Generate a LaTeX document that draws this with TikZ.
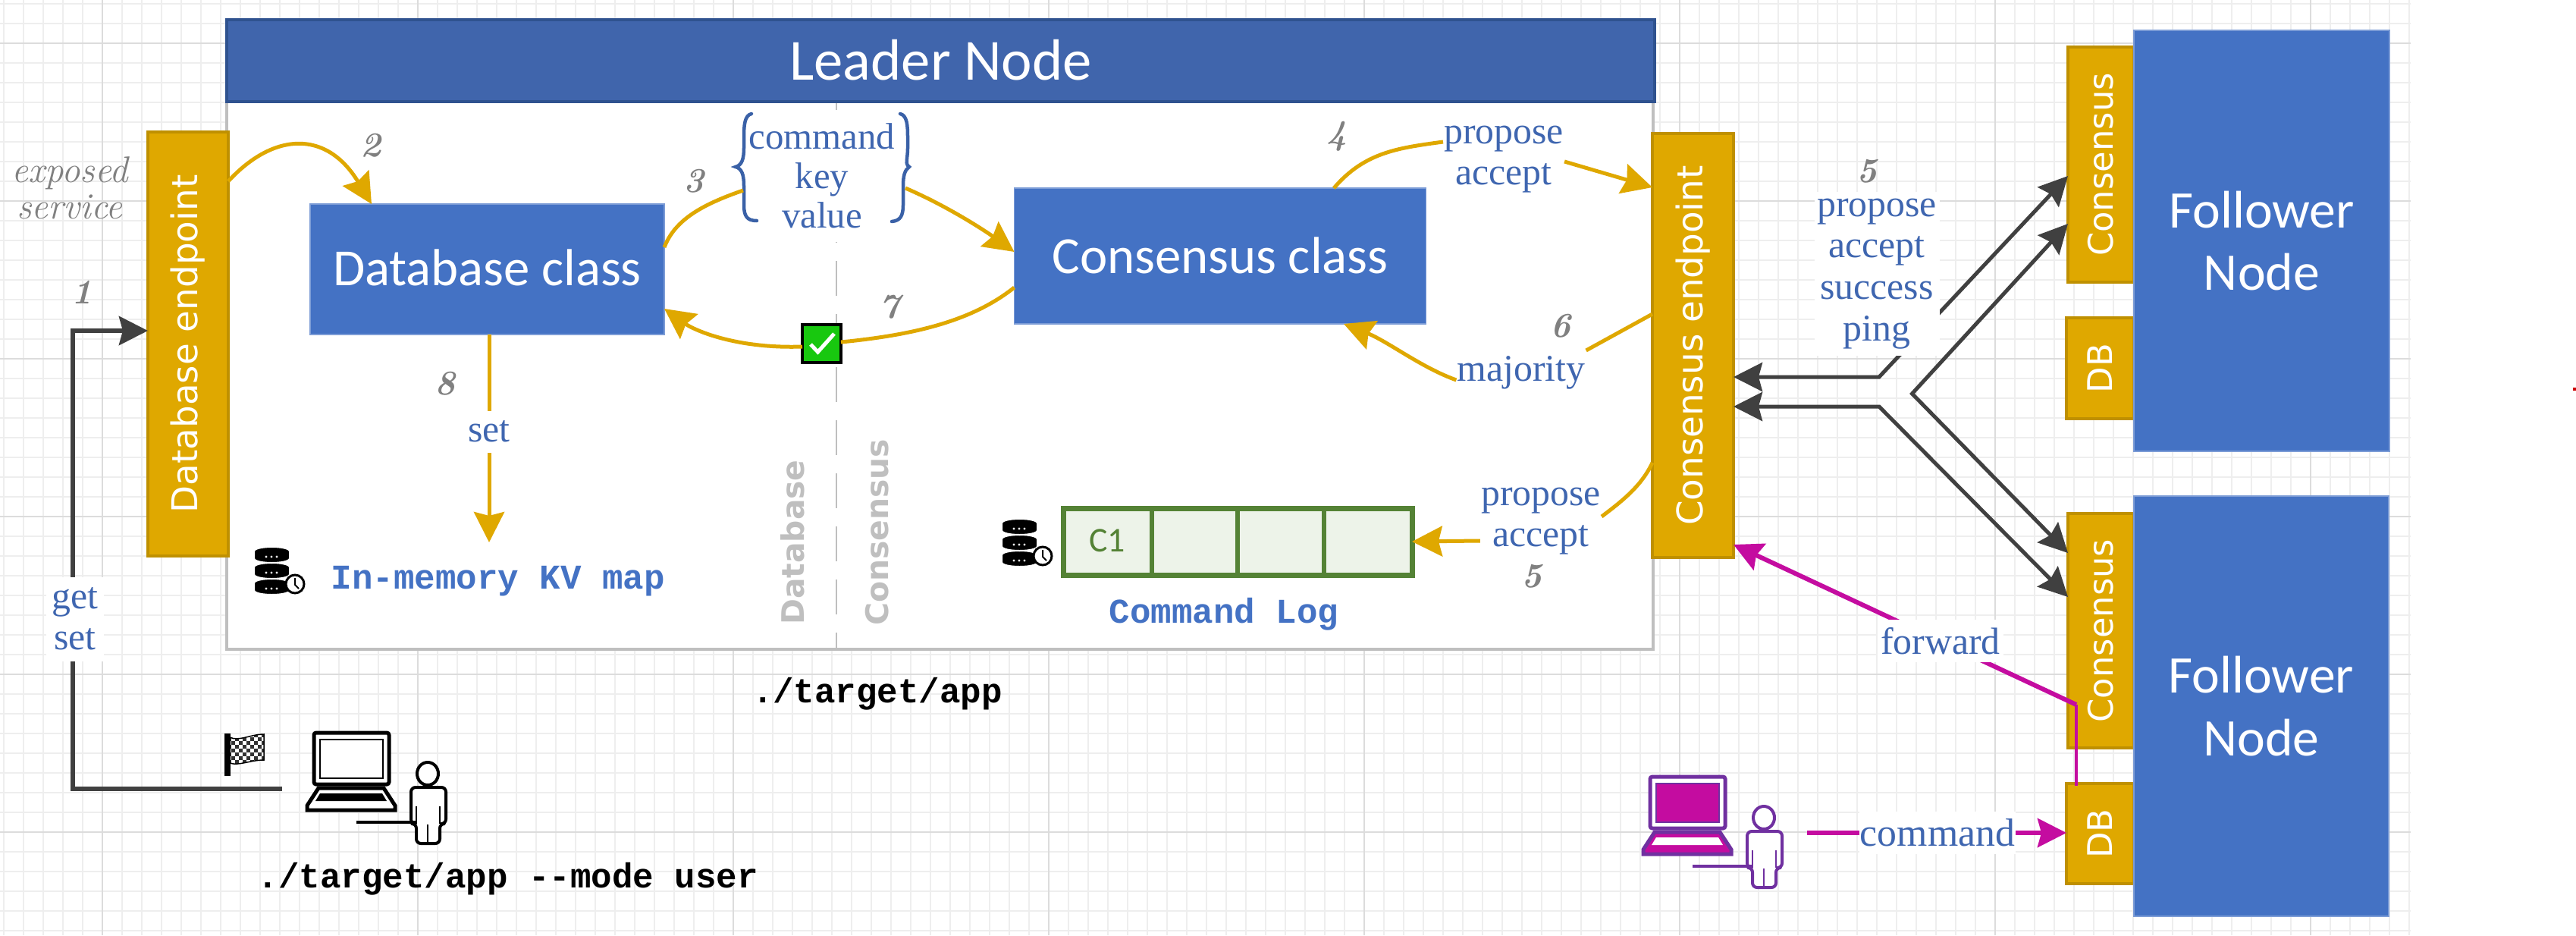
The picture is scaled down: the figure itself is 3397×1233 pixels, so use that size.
\documentclass[tikz,border=0pt]{standalone}
\usepackage{fontspec}
\usepackage{graphicx}
\usetikzlibrary{arrows.meta,calc}
\newfontfamily\fCal{Carlito}
\newfontfamily\fVer{DejaVu Sans}
\newfontfamily\fSer{Liberation Serif}
\newfontfamily\fMon{Liberation Mono}
\newcommand\fsz[2]{\fontsize{#1}{#2}\selectfont}
\definecolor{gold}{HTML}{DFA800}
\definecolor{goldd}{HTML}{BF9000}
\definecolor{blueb}{HTML}{4472C4}
\definecolor{bluet}{HTML}{4065AC}
\definecolor{bluetd}{HTML}{2F528F}
\definecolor{lbltxt}{HTML}{3F66B0}
\definecolor{dark}{HTML}{404040}
\definecolor{mag}{HTML}{C40CA0}
\definecolor{purp}{HTML}{7030A0}
\definecolor{grn}{HTML}{548235}
\definecolor{grnl}{HTML}{EDF3E9}
\definecolor{gmin}{HTML}{EEEEEE}
\definecolor{gmaj}{HTML}{DCDCDC}
\definecolor{chkgreen}{HTML}{18C80F}
\tikzset{
  sz/.style 2 args={minimum width=#1bp,minimum height=#2bp,inner sep=0pt,outer sep=0pt},
  epbox/.style={draw=goldd,line width=4bp,fill=gold,text=white,font=\fVer\fsz{47}{50}},
  fwbox/.style={draw=blueb!70!white,line width=1.5bp,fill=blueb,text=white,font=\fCal\fsz{70}{83},align=center},
  classbox/.style={draw=blueb!70!white,line width=1.5bp,fill=blueb,text=white,font=\fCal\fsz{69}{72}},
  lbl/.style={fill=white,text=lbltxt,font=\fSer\fsz{50}{54},align=center,inner sep=1bp},
  numl/.style={text=gray,font=\bfseries\itshape\fsz{46}{46},inner sep=0pt},
  mono/.style={font=\fMon\bfseries\fsz{46}{50},inner sep=0pt},
  monob/.style={mono,text=blueb},
  goldline/.style={draw=gold,line width=5bp},
  goldarrow/.style={goldline,-{Stealth[length=40bp,width=40bp,inset=5bp]}},
  darkboth/.style={draw=dark,line width=5bp,{Stealth[length=38bp,width=38bp,inset=5bp]}-{Stealth[length=38bp,width=38bp,inset=5bp]}},
  darkarrow/.style={draw=dark,line width=6bp,-{Stealth[length=38bp,width=38bp,inset=5bp]}},
  magarrow/.style={draw=mag,line width=6bp,-{Stealth[length=38bp,width=38bp,inset=5bp]}},
  bracel/.style={draw=blueb!85!black,line width=4.5bp,line cap=round},
  dbicon/.pic={
    \foreach \yy in {42,21,0}{
      \filldraw[fill=black,draw=white,line width=2bp] (0,\yy+6) -- (0,\yy+15) .. controls (0,\yy+23) and (47,\yy+23) .. (47,\yy+15) -- (47,\yy+6) .. controls (47,\yy-2) and (0,\yy-2) .. (0,\yy+6) -- cycle;
      \foreach \dx in {16,23,30}{\fill[white] (\dx,\yy+13) circle (1.7bp);}
    }
    \filldraw[fill=white,draw=black,line width=3bp] (54,49) circle (12bp);
    \draw[black,line width=2bp] (54,41) -- (54,50) -- (59,55);
  }
}
% laptop and person: position, outline, screen, base, keyboard
\newcommand\lapuserdraw[6]{%
  \begin{scope}[shift={(#1,#2)}]
    \draw[#3,line width=5bp,fill=white,rounded corners=3bp] (0,0) rectangle (99,68);
    \draw[#3,line width=2.5bp,fill=#4] (8,9) rectangle (91,60);
    \draw[#3,line width=5bp,fill=#5] (6,73) -- (92,73) -- (107,96) -- (107,102) -- (-9,102) -- (-9,96) -- cycle;
    \fill[#6] (8,80) -- (90,80) -- (96,90) -- (2,90) -- cycle;
    \draw[#3,line width=4bp,fill=white] (150,54) ellipse (14bp and 15bp);
    \draw[#3,line width=4bp,fill=white,rounded corners=6bp,line join=round]
      (128,120) -- (128,72) -- (174,72) -- (174,120) -- (166,120) -- (166,146) -- (135,146) -- (135,120) -- cycle;
    \draw[#3,line width=2.5bp] (135,97) -- (135,120) (166,97) -- (166,120) (150,121) -- (150,146);
    \draw[#3,line width=4bp] (56,118) -- (134,118);
  \end{scope}}
\begin{document}
\begin{tikzpicture}[x=1bp,y=-1bp]
\useasboundingbox (0,0) rectangle (3397,1233);
\fill[white] (0,0) rectangle (3397,1233);
% grid
\foreach \i in {0,...,122}{\draw[gmin,line width=1.2bp] ({5+26*\i},0) -- ({5+26*\i},1233);}
\foreach \i in {0,...,47}{\draw[gmin,line width=1.6bp] (0,{5+26*\i}) -- (3179,{5+26*\i});}
\foreach \i in {0,...,7}{\draw[gmaj,line width=1.4bp] ({135+416*\i},0) -- ({135+416*\i},1233);}
\foreach \i in {0,...,5}{\draw[gmaj,line width=2.2bp] (0,{57+208*\i}) -- (3179,{57+208*\i});}
\fill[red!80!black] (3393,511) rectangle (3397,515);

% leader body and title
\node[sz={1881}{722},draw=black!25,line width=4bp,fill=white] (body) at (1239.5,495) {};
\draw[black!25,line width=2.5bp,dash pattern=on 46bp off 24bp] (1103,134) -- (1103,856);
\node[rotate=90,text=black!25,font=\fVer\bfseries\fsz{41}{44},inner sep=0pt] (ldb) at (1045,715) {Database};
\node[rotate=90,text=black!25,font=\fVer\bfseries\fsz{41}{44},inner sep=0pt] (lcs) at (1157,702) {Consensus};
\node[sz={1883}{108},draw=bluetd,line width=3.5bp,fill=bluet,text=white,font=\fCal\fsz{77}{77}] (title) at (1240.5,80) {\raisebox{2bp}{Leader Node}};

% boxes
\node[sz={106}{559},epbox] (dbep) at (248,453.5) {\rotatebox{90}{Database endpoint}};
\node[sz={107}{559},epbox] (csep) at (2232.5,455.5) {\rotatebox{90}{Consensus endpoint}};
\node[sz={467}{172},classbox] (dbcls) at (642.5,355) {\raisebox{4bp}{Database class}};
\node[sz={543}{179},classbox] (cscls) at (1609,337.5) {\raisebox{2bp}{Consensus class}};
\node[sz={87}{310},epbox,font=\fVer\fsz{45}{50}] (csa) at (2770.5,217) {\rotatebox{90}{Consensus}};
\node[sz={89}{133},epbox,font=\fVer\fsz{45}{50}] (dba) at (2769.5,485.5) {\rotatebox{90}{DB}};
\node[sz={87}{309},epbox,font=\fVer\fsz{45}{50}] (csb) at (2770.5,831.5) {\rotatebox{90}{Consensus}};
\node[sz={89}{132},epbox,font=\fVer\fsz{45}{50}] (dbb) at (2769.5,1099) {\rotatebox{90}{DB}};
\node[sz={337}{555},fwbox] (fna) at (2982.5,317.5) {Follower\\Node};
\node[sz={336}{554},fwbox] (fnb) at (2982,931) {Follower\\Node};

% command label and braces
\node[lbl,minimum width=190bp,minimum height=174bp,font=\fSer\fsz{49}{52}] (cmd) at (1084,232) {command\\key\\value};
\draw[bracel] (991,150) .. controls (982,152) and (981,165) .. (981,180) -- (981,195) .. controls (981,210) and (978,218) .. (970,220) .. controls (978,222) and (981,230) .. (981,245) -- (981,270) .. controls (981,285) and (985,291) .. (998,291);
\draw[bracel] (1187,150) .. controls (1196,152) and (1197,165) .. (1197,180) -- (1197,195) .. controls (1197,210) and (1193,216) .. (1199,220) .. controls (1193,224) and (1191,232) .. (1191,245) -- (1191,270) .. controls (1191,285) and (1187,291) .. (1176,292);

% check node
\node[sz={51}{50},draw=black,line width=4.5bp,fill=chkgreen] (chk) at (1083.5,453) {};
\draw[white,line width=5bp] ($(chk.west)+(11,1)$) -- ($(chk.south)+(-5,-14)$) -- ($(chk.east)+(-9,-13)$);

% gold connectors
\draw[goldarrow] (dbep.east |- 0,239) .. controls (360,175) and (430,170) .. (490,0 |- dbcls.north);
\draw[goldline] (dbcls.east |- 0,326) .. controls (890,290) and (925,270) .. (980,251);
\draw[goldarrow] (1194,248) .. controls (1250,272) and (1300,305) .. (cscls.west |- 0,332);
\draw[goldline] (cscls.west |- 0,379) .. controls (1280,425) and (1200,442) .. (chk.east |- 0,451);
\draw[goldarrow] (chk.west |- 0,457) .. controls (970,460) and (915,435) .. (dbcls.east |- 0,407);
\draw[goldarrow] (645,0 |- dbcls.south) -- (645,715);

\node[lbl] (pa) at (1983,210) {propose\\accept};
\node[lbl] (mj) at (2006,491) {majority};
\node[lbl] (pb) at (2032,687) {propose\\accept};
\node[lbl,minimum height=55bp] (setl) at (645,569) {set};
\draw[goldline] (1759,0 |- cscls.north) .. controls (1800,200) and (1845,195) .. (pa.west |- 0,187);
\draw[goldarrow] (pa.east |- 0,213) -- (csep.west |- 0,247);
\draw[goldline] (csep.west |- 0,414) -- (mj.east |- 0,462);
\draw[goldarrow] (mj.west |- 0,501) .. controls (1875,485) and (1830,450) .. (1772,0 |- cscls.south);
\draw[goldline] (csep.west |- 0,610) .. controls (2165,640) and (2140,660) .. (pb.east |- 0,681);

% command log
\node[sz={460}{88},draw=grn,line width=7bp,fill=grnl] (log) at (1632,714) {};
\foreach \xx in {1519,1632,1746}{\draw[grn,line width=5.5bp] (\xx,0 |- log.north) -- (\xx,0 |- log.south);}
\node[text=grn,font=\fCal\fsz{46}{50},inner sep=0pt] (cone) at (1460,713) {C1};
\draw[goldarrow] (pb.west |- 0,713) -- (log.east |- 0,714);
\node[monob] (cl) at (1614,810) {Command Log};
\node[monob] (kv) at (657,766) {In-memory KV map};
\pic at (335,721) {dbicon};
\pic at (1321,684) {dbicon};

% numbers and side labels
\node[text=gray,font=\itshape\fsz{49}{48},align=center,inner sep=0pt] (exp) at (92,248) {exposed\\service};
\node[numl] (n1) at (108,385) {1};
\node[numl] (n2) at (489,192) {2};
\node[numl] (n3) at (915,239) {3};
\node[numl] (n4) at (1763,180) {4};
\node[numl] (n5a) at (2462,226) {5};
\node[numl] (n5b) at (2020,760) {5};
\node[numl] (n6) at (2058,430) {6};
\node[numl] (n7) at (1173,405) {7};
\node[numl] (n8) at (587,506) {8};

% client
\lapuserdraw{414}{966}{black}{white}{white}{black}
\coordinate (ua) at (372,1040);
\coordinate (ca) at (96,1040);
\coordinate (cb) at (96,436);
\draw[darkarrow,line join=miter] (ua) -- (ca) -- (cb) -- (dbep.west |- cb);
\node[lbl,minimum width=76bp,minimum height=111bp] (gs) at (99,816) {get\\set};
\node[mono] (app) at (1157,915) {./target/app};
\node[mono] (appu) at (670,1159) {./target/app --mode user};

% flag
\begin{scope}
  \clip (303,972) .. controls (315,978) and (330,968) .. (348,968) -- (348,1002) .. controls (330,1002) and (315,1010) .. (303,1006) -- cycle;
  \fill[white] (300,960) rectangle (350,1012);
  \foreach \a in {0,...,9}{\foreach \b in {0,...,9}{
    \pgfmathparse{int(mod(\a+\b,2))}
    \ifnum\pgfmathresult=0 \fill[black!80] ({300+5*\a},{962+5*\b}) rectangle ++(5,5);\fi
  }}
\end{scope}
\draw[black,line width=1.5bp] (303,972) .. controls (315,978) and (330,968) .. (348,968) -- (348,1002) .. controls (330,1002) and (315,1010) .. (303,1006);
\fill[black] (296,967) rectangle (304,1023);

% cluster connectors
\coordinate (ja) at (2478,497);
\coordinate (jb) at (2478,536);
\coordinate (jc) at (2521.5,519);
\draw[darkboth,line join=miter] (csep.east |- ja) -- (ja) -- (csa.west |- 0,232);
\draw[darkboth,line join=miter] (csep.east |- jb) -- (jb) -- (csb.west |- 0,787);
\draw[darkboth,line join=miter] (csa.west |- 0,295) -- (jc) -- (csb.west |- 0,729);
\node[lbl,minimum width=165bp,minimum height=216bp,font=\fSer\fsz{50}{55}] (pl) at (2475,361) {propose\\accept\\success\\ping};

% follower client
\lapuserdraw{2176}{1024}{purp}{mag}{mag}{white}
\coordinate (ub) at (2383,1098);
\coordinate (mc) at (2738,929);
\draw[magarrow] (ub) -- (dbb.west |- ub);
\node[lbl,minimum width=205bp,minimum height=56bp,font=\fSer\fsz{52}{54}] (cm) at (2555,1098) {command};
\draw[mag,line width=4bp] (2738,1036) -- (mc);
\draw[magarrow] (mc) -- (csep.east |- 0,718);
\node[lbl,minimum width=166bp,minimum height=56bp] (fw) at (2559,845) {forward};
\end{tikzpicture}
\end{document}
